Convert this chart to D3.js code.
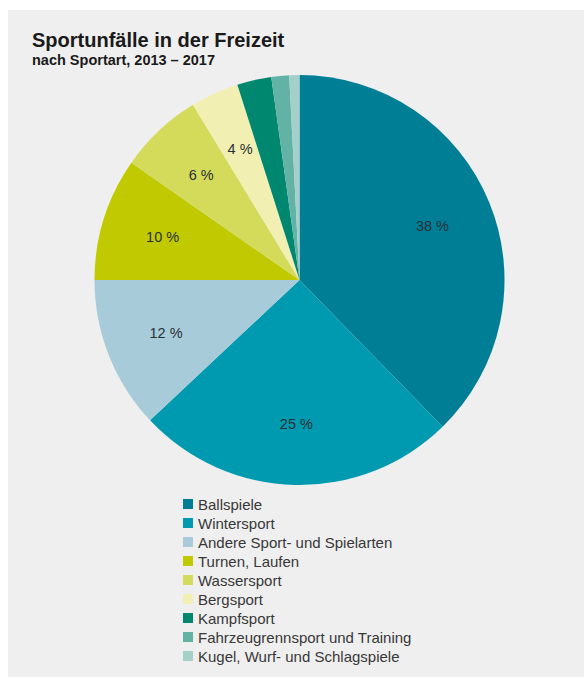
<!DOCTYPE html>
<html><head><meta charset="utf-8">
<script src="https://cdn.jsdelivr.net/npm/d3@7"></script>
<style>body{margin:0;background:#fff;}svg{display:block;font-family:"Liberation Sans",Arial,sans-serif;}</style>
</head><body>
<svg id="c" width="584" height="677"></svg>
<script>
const categories = ["Ballspiele","Wintersport","Andere Sport- und Spielarten","Turnen, Laufen","Wassersport","Bergsport","Kampfsport","Fahrzeugrennsport und Training","Kugel, Wurf- und Schlagspiele"];
const values = [37.7,25.3,12.0,9.7,6.6,3.8,2.7,1.4,0.8];
const labels = ["38 %","25 %","12 %","10 %","6 %","4 %","","",""];
const colors = ["#007e96","#009ab0","#a7cbd9","#c1c900","#d4db5b","#f1f0b2","#00876f","#62b3a6","#a3d0c9"];

const svg = d3.select("#c");
svg.append("rect").attr("x",8).attr("y",10).attr("width",576).attr("height",667).attr("fill","#efefef");
svg.append("text").attr("x",32).attr("y",47).attr("font-size",20).attr("font-weight","bold").attr("fill","#1a1a1a").text("Sportunfälle in der Freizeit");
svg.append("text").attr("x",32).attr("y",65).attr("font-size",14.5).attr("font-weight","bold").attr("fill","#1a1a1a").text("nach Sportart, 2013 – 2017");

const cx=299.5, cy=280, r=205;
const pie = d3.pie().sort(null).value(d=>d)(values);
const arc = d3.arc().innerRadius(0).outerRadius(r);
const lab = d3.arc().innerRadius(r*0.7).outerRadius(r*0.7);
const g = svg.append("g").attr("transform",`translate(${cx},${cy})`);
g.selectAll("path").data(pie).join("path").attr("d",arc).attr("fill",(d,i)=>colors[i]);
g.selectAll("text").data(pie).join("text")
  .attr("transform",d=>`translate(${lab.centroid(d)})`)
  .attr("text-anchor","middle").attr("dy","0.35em")
  .attr("font-size",14.5).attr("fill","#2a3035")
  .text((d,i)=>labels[i]);

const lg = svg.append("g");
categories.forEach((c,i)=>{
  const y = 499 + i*19;
  lg.append("rect").attr("x",183).attr("y",y).attr("width",10).attr("height",10).attr("fill",colors[i]);
  lg.append("text").attr("x",198).attr("y",y+10.5).attr("font-size",15).attr("fill","#383838").text(c);
});
</script>
</body></html>
